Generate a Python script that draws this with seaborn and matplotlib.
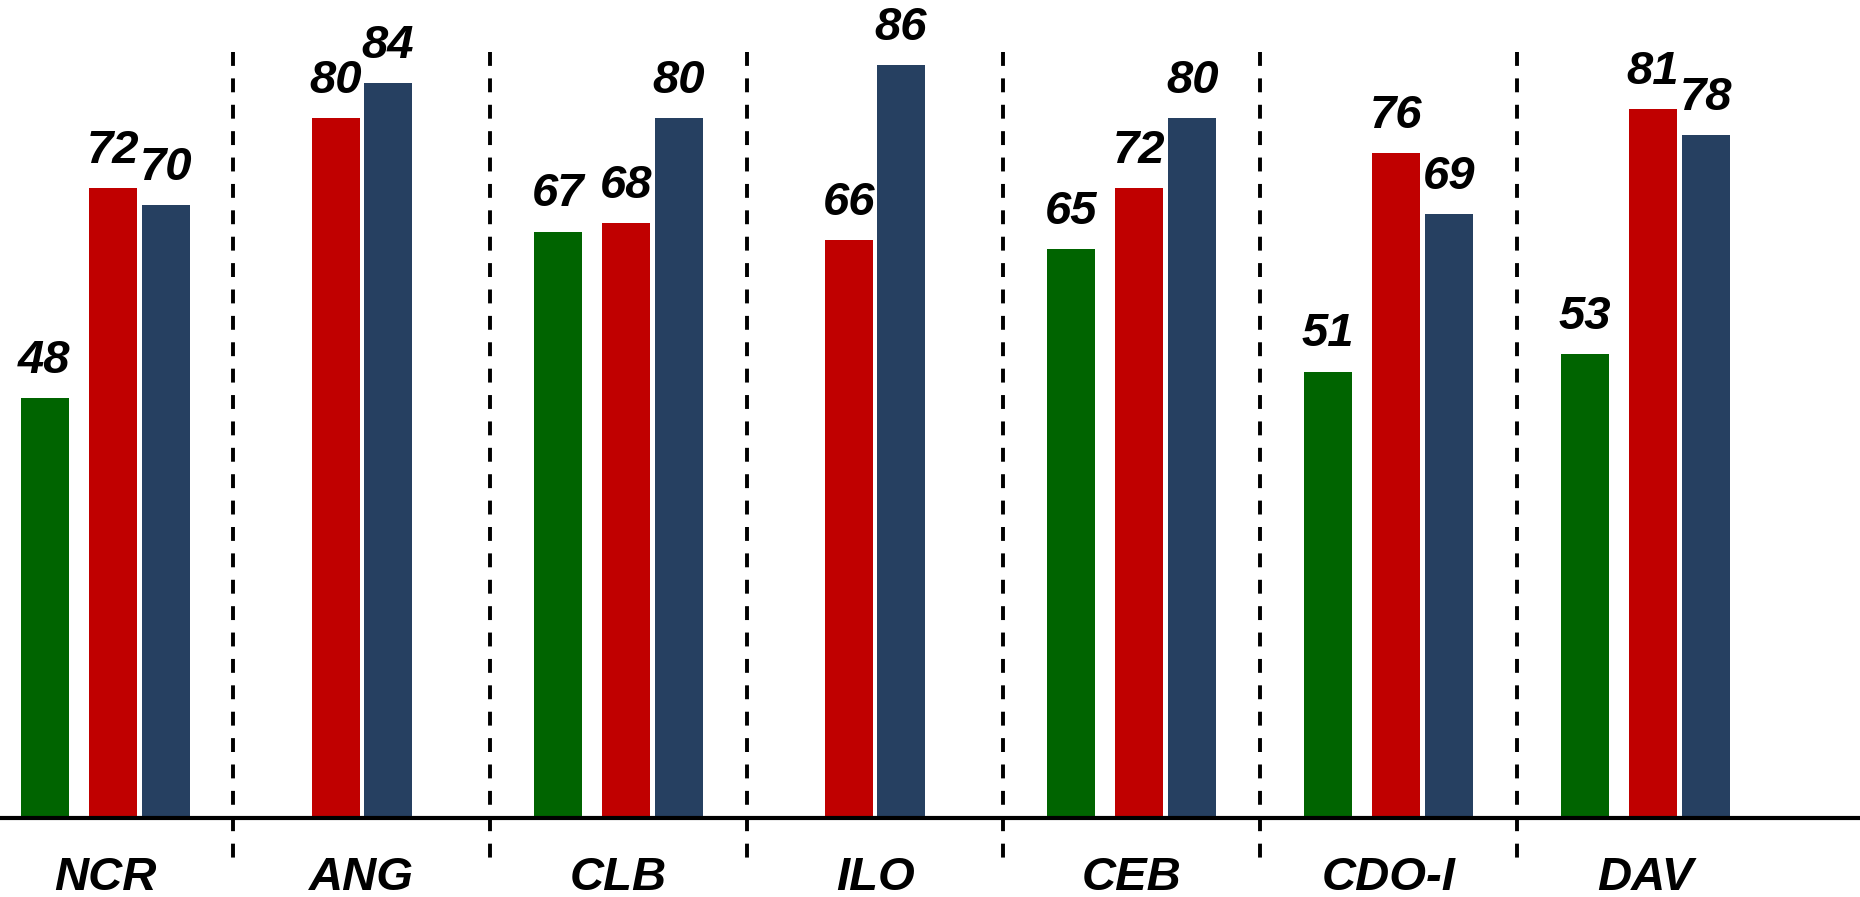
import numpy as np
import pandas as pd
import matplotlib
matplotlib.use("Agg")
import matplotlib.pyplot as plt
import seaborn as sns

# ---------------- data ----------------
regions = ["NCR", "ANG", "CLB", "ILO", "CEB", "CDO-I", "DAV"]
series = ["Series 1", "Series 2", "Series 3"]
series1_vals = [48, np.nan, 67, np.nan, 65, 51, 53]
series2_vals = [72, 80, 68, 66, 72, 76, 81]
series3_vals = [70, 84, 80, 86, 80, 69, 78]

# ---------------- style / layout ----------------
colors = {"Series 1": "#006400", "Series 2": "#C00000", "Series 3": "#264061"}
W, H, DPI = 1860, 897, 100
group_px = 256.7            # px between group centres
bar_px = 48
# offsets of bar centres (px) inside a group, by number of bars present
offsets_px = {3: [-60.5, 7.5, 60.5], 2: [-26.0, 26.0], 1: [0.0]}
FS = 34

sns.set_theme(style="white")
plt.rcParams["font.family"] = ["Liberation Sans", "DejaVu Sans"]
plt.rcParams["lines.scale_dashes"] = False

# long-form table with computed positions
vals = {"Series 1": series1_vals, "Series 2": series2_vals, "Series 3": series3_vals}
rows = []
for gi, reg in enumerate(regions):
    present = [s for s in series if not np.isnan(vals[s][gi])]
    offs = offsets_px[len(present)]
    for s, o in zip(present, offs):
        rows.append({"region": reg, "series": s, "value": vals[s][gi],
                     "pos": gi + o / group_px})
df = pd.DataFrame(rows)

fig = plt.figure(figsize=(W / DPI, H / DPI), dpi=DPI)
base_px = 818
ax = fig.add_axes([0, (H - base_px) / H, 1, base_px / H])

min_gap = np.min(np.diff(np.unique(df["pos"].values)))
sns.barplot(data=df, x="pos", y="value", hue="series", hue_order=series,
            palette=colors, native_scale=True, dodge=False,
            width=(bar_px / group_px) / min_gap, saturation=1,
            legend=False, ax=ax, errorbar=None, linewidth=0)

for cont in ax.containers:
    ax.bar_label(cont, fmt="%d", padding=11, fontsize=FS,
                 fontweight="bold", fontstyle="italic", color="black")

left = -105 / group_px
ax.set_xlim(left, left + W / group_px)
ax.set_ylim(0, base_px / 8.75)

# dashed separators (drawn from the top down)
xt = ax.get_xaxis_transform()
for i in range(len(regions) - 1):
    ax.plot([i + 0.5, i + 0.5], [(base_px - 52) / base_px, -0.06],
            transform=xt, color="black", lw=2.8, linestyle=(0, (10, 9)),
            clip_on=False, zorder=0, solid_capstyle="butt",
            dash_capstyle="butt")

ax.set_xticks(range(len(regions)))
ax.set_xticklabels(regions, fontsize=FS, fontweight="bold", fontstyle="italic")
ax.tick_params(axis="x", length=0, pad=27, colors="black")
ax.set_yticks([])
ax.set_xlabel("")
ax.set_ylabel("")
for sp in ["top", "left", "right"]:
    ax.spines[sp].set_visible(False)
ax.spines["bottom"].set_color("black")
ax.spines["bottom"].set_linewidth(3)
ax.spines["bottom"].set_zorder(5)
ax.patch.set_alpha(0)

fig.savefig("out.png", dpi=DPI, facecolor="white")
